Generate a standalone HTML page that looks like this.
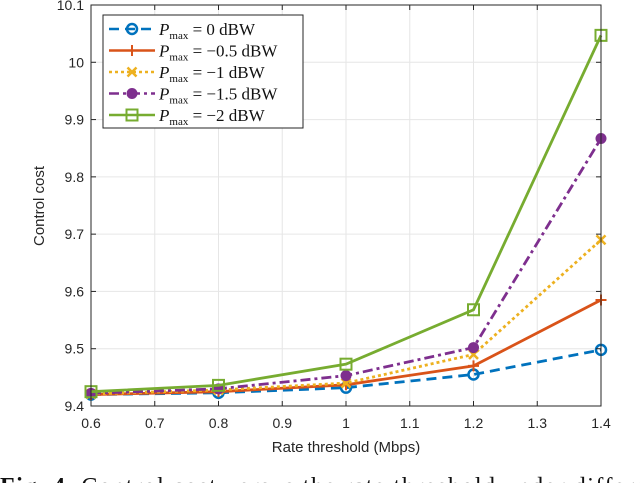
<!DOCTYPE html>
<html><head><meta charset="utf-8"><style>
body{margin:0;background:#fff;width:640px;height:483px;overflow:hidden}
svg{display:block}
</style></head><body>
<svg id="chart" width="640" height="483" font-family="Liberation Sans, sans-serif">
<g id="grid"></g>
<g id="series"></g>
<rect x="91" y="5" width="510" height="401" fill="none" stroke="#262626" stroke-width="1"/>
<g id="ticks"></g>
<text x="346" y="452" font-size="15" text-anchor="middle" fill="#262626">Rate threshold (Mbps)</text>
<text transform="translate(44,206) rotate(-90)" font-size="15" text-anchor="middle" fill="#262626">Control cost</text>
<g id="legend"></g>
<text x="0" y="494" font-family="Liberation Serif, serif" font-size="24" fill="#111" textLength="668" lengthAdjust="spacing"><tspan font-weight="bold">Fig. 4.</tspan> Control cost versus the rate threshold under different</text>
</svg>
<script>
const xValues=[0.6,0.8,1.0,1.2,1.4];
const xTicks=[0.6,0.7,0.8,0.9,1.0,1.1,1.2,1.3,1.4];
const xTickLabels=["0.6","0.7","0.8","0.9","1","1.1","1.2","1.3","1.4"];
const yTicks=[9.4,9.5,9.6,9.7,9.8,9.9,10,10.1];
const yTickLabels=["9.4","9.5","9.6","9.7","9.8","9.9","10","10.1"];
const seriesNames=["0","\u22120.5","\u22121","\u22121.5","\u22122"];
const s0=[9.420,9.423,9.432,9.455,9.498];
const s1=[9.420,9.425,9.437,9.470,9.585];
const s2=[9.421,9.428,9.440,9.490,9.690];
const s3=[9.422,9.430,9.453,9.502,9.867];
const s4=[9.425,9.436,9.473,9.568,10.047];
const allSeries=[s0,s1,s2,s3,s4];
const colors=["#0072BD","#D95319","#EDB120","#7E2F8E","#77AC30"];
const dashes=["10,6","","3,3","10,4,3,4",""];
const markers=["circle","plus","x","dot","square"];
const NS="http://www.w3.org/2000/svg";
const X=v=>91+(v-0.6)/(0.8)*510;
const Y=v=>406-(v-9.4)/(0.7)*401;
function mk(t,a,p){const e=document.createElementNS(NS,t);for(const k in a)e.setAttribute(k,a[k]);p.appendChild(e);return e;}
const grid=document.getElementById('grid'),ticks=document.getElementById('ticks'),ser=document.getElementById('series'),leg=document.getElementById('legend');
xTicks.forEach((v,i)=>{const x=X(v);
 const g=mk('line',{x1:x,x2:x,y1:5,y2:406,stroke:'#e6e6e6'},grid);
 mk('line',{x1:x,x2:x,y1:406,y2:401,stroke:'#262626'},ticks);mk('line',{x1:x,x2:x,y1:5,y2:10,stroke:'#262626'},ticks);
 const t=mk('text',{x:x,y:428,'font-size':14,'text-anchor':'middle',fill:'#262626'},ticks);t.textContent=xTickLabels[i];
 });
yTicks.forEach((v,i)=>{const y=Y(v);
 const g=mk('line',{x1:91,x2:601,y1:y,y2:y,stroke:'#e6e6e6'},grid);
 mk('line',{x1:91,x2:96,y1:y,y2:y,stroke:'#262626'},ticks);mk('line',{x1:601,x2:596,y1:y,y2:y,stroke:'#262626'},ticks);
 const t=mk('text',{x:84,y:y+5,'font-size':14,'text-anchor':'end',fill:'#262626'},ticks);t.textContent=yTickLabels[i];
 });
function marker(type,x,y,c,p){
 let e;
 if(type==='circle')e=mk('circle',{cx:x,cy:y,r:5,fill:'none',stroke:c,'stroke-width':2.5},p);
 else if(type==='dot')e=mk('circle',{cx:x,cy:y,r:5.5,fill:c},p);
 else if(type==='square')e=mk('rect',{x:x-5.5,y:y-5.5,width:11,height:11,fill:'none',stroke:c,'stroke-width':2},p);
 else if(type==='plus')e=mk('path',{d:`M${x-5.5},${y}H${x+5.5}M${x},${y-5.5}V${y+5.5}`,stroke:c,'stroke-width':2},p);
 else e=mk('path',{d:`M${x-4.5},${y-4.5}L${x+4.5},${y+4.5}M${x-4.5},${y+4.5}L${x+4.5},${y-4.5}`,stroke:c,'stroke-width':2.5},p);
 }
allSeries.forEach((s,k)=>{
 const pts=s.map((v,i)=>X(xValues[i])+','+Y(v)).join(' ');
 const l=mk('polyline',{points:pts,fill:'none',stroke:colors[k],'stroke-width':2.8,'stroke-dasharray':dashes[k]},ser);
 
 s.forEach((v,i)=>marker(markers[k],X(xValues[i]),Y(v),colors[k],ser));});
const box=mk('rect',{x:103,y:15,width:200,height:113,fill:'#fff',stroke:'#262626'},leg);

seriesNames.forEach((n,k)=>{const y=29+k*21.5;
 const g=mk('g',{},leg);
 mk('line',{x1:109,x2:155,y1:y,y2:y,stroke:colors[k],'stroke-width':2.5,'stroke-dasharray':dashes[k]},g);
 marker(markers[k],132,y,colors[k],g);
 const t=mk('text',{x:159,y:y+6,'font-size':17,'font-family':'Liberation Serif, serif',fill:'#111'},g);
 t.innerHTML='<tspan font-style="italic">P</tspan><tspan font-size="11" dy="4">max</tspan><tspan dy="-4"> = '+n+' dBW</tspan>';});
</script>
</body></html>
